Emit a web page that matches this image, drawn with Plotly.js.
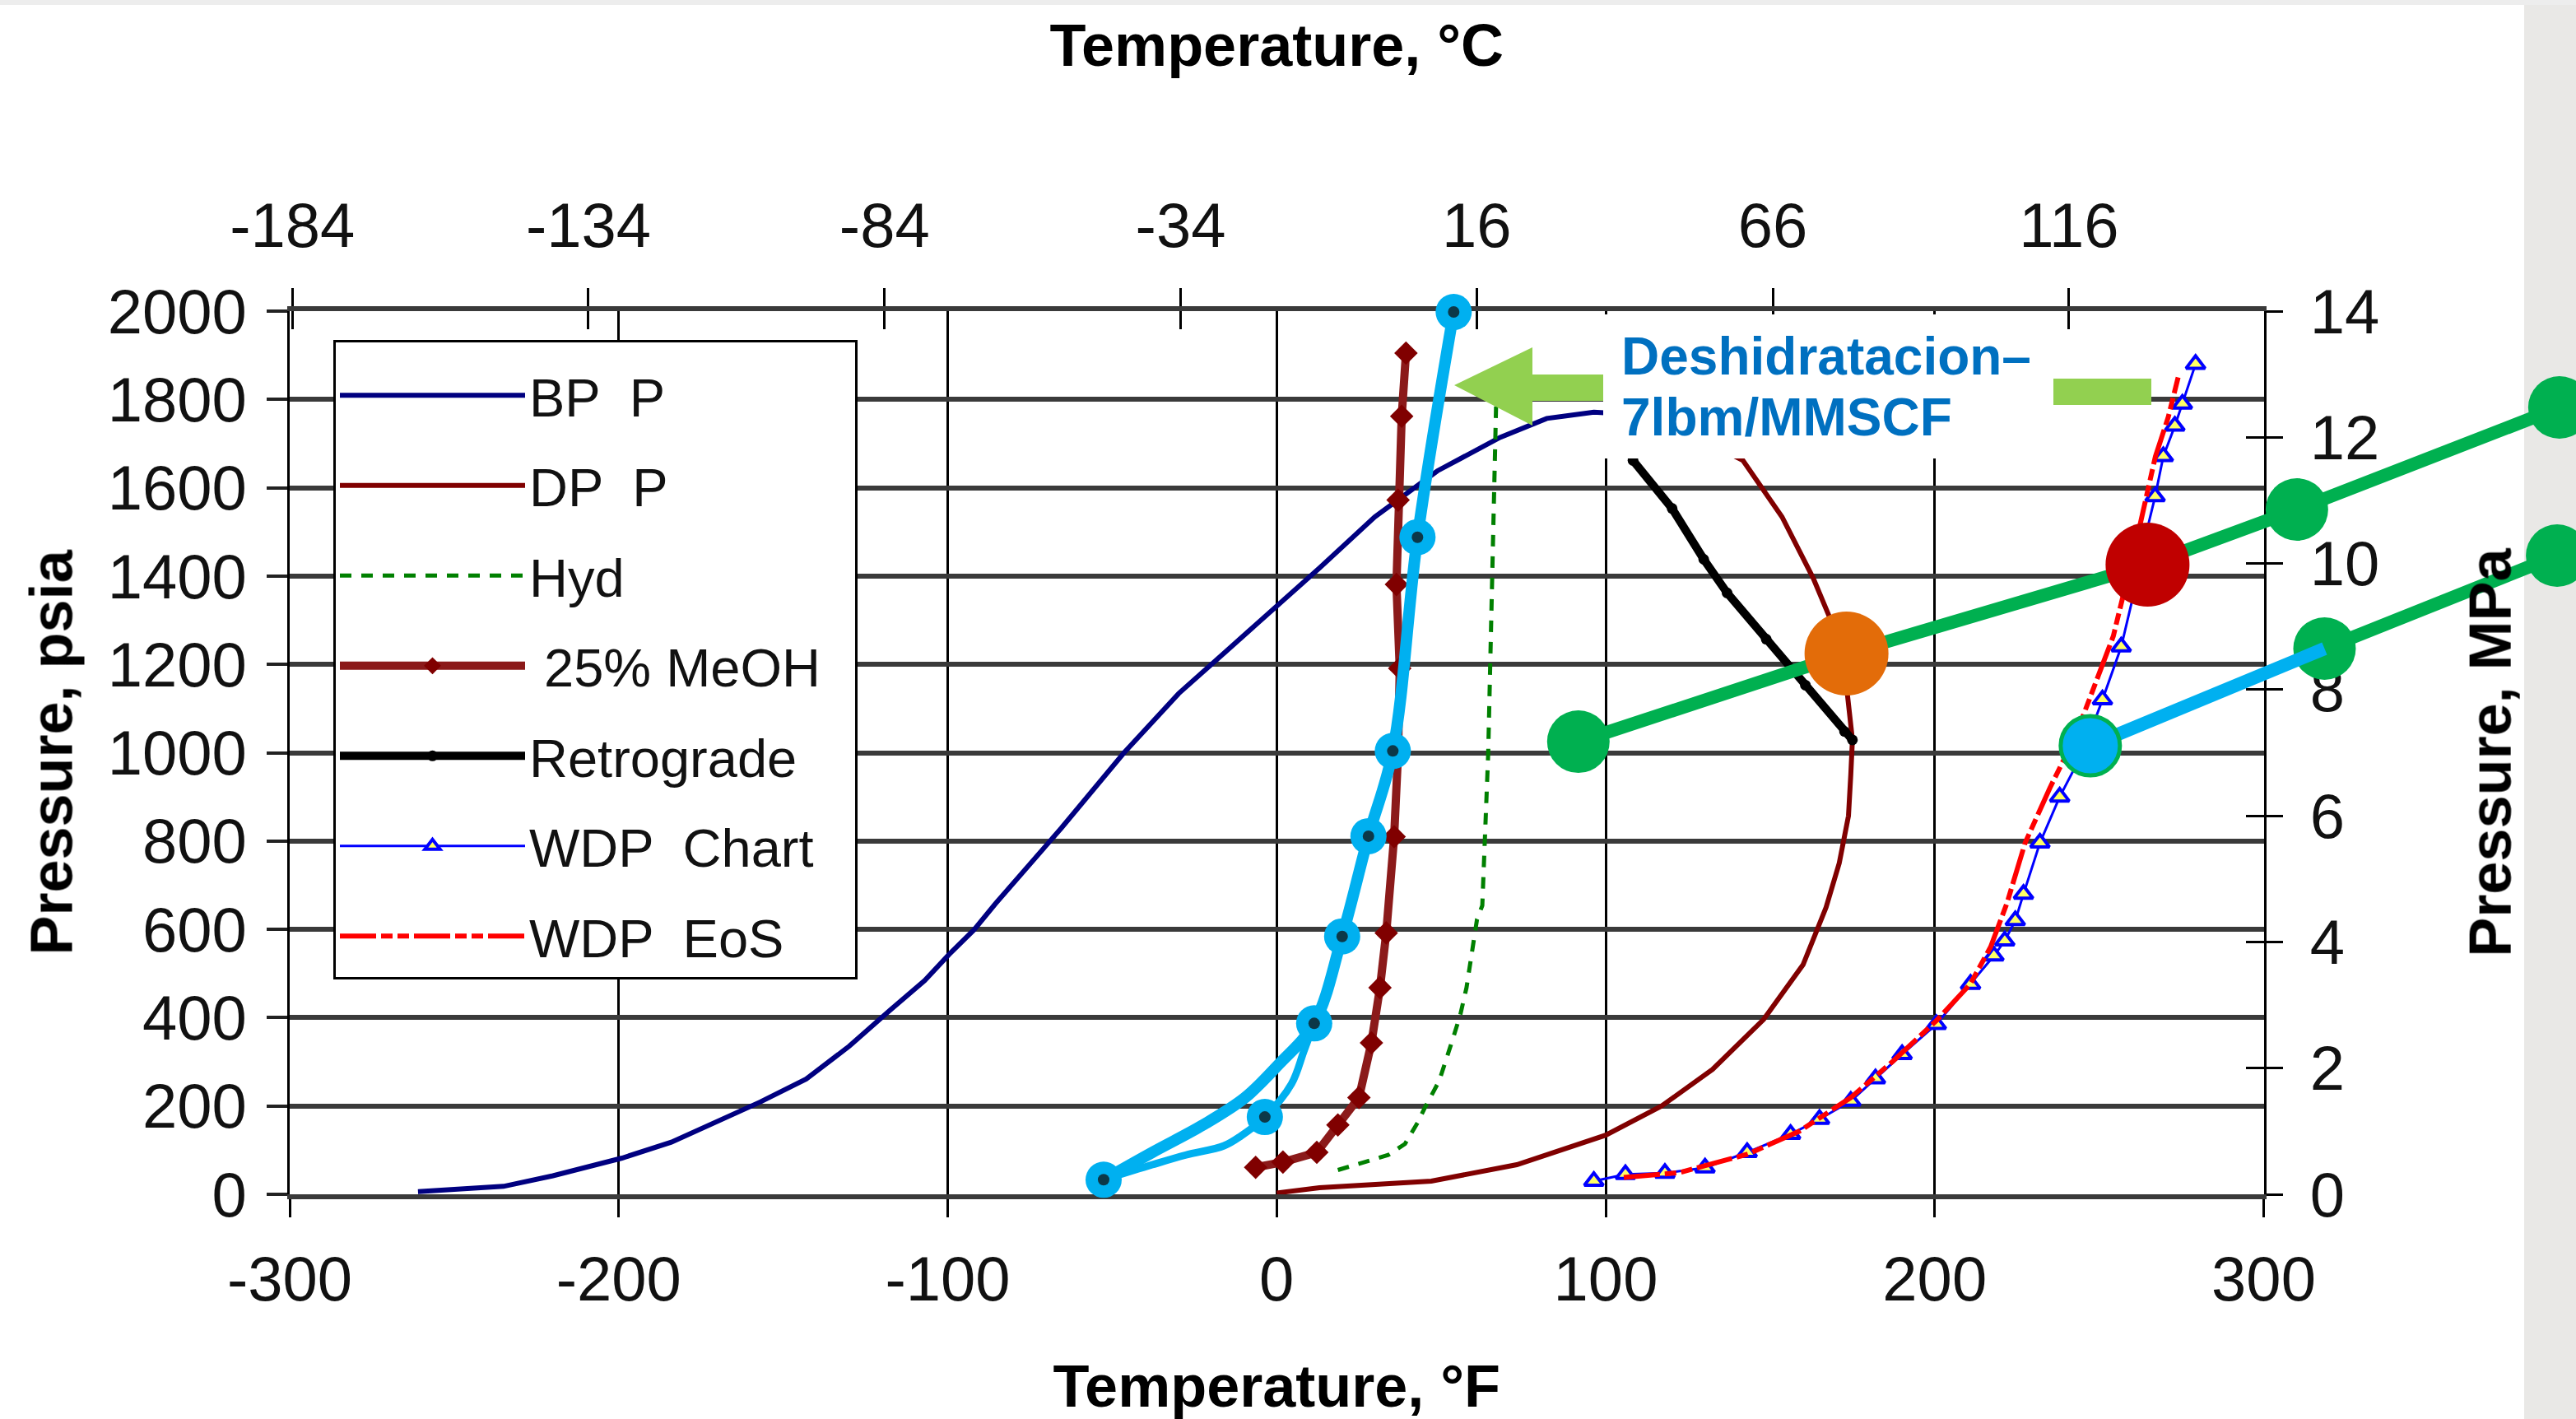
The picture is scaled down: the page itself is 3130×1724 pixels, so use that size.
<!DOCTYPE html>
<html><head><meta charset="utf-8">
<script src="https://cdn.plot.ly/plotly-3.0.1.min.js"></script>
<style>html,body{margin:0;padding:0;background:#fff;overflow:hidden}#chart{width:3130px;height:1724px}</style>
</head><body><div id="chart"></div>
<script>
// ===== data (temperature °F, pressure psia) =====
const bpT = [-261,-245,-235,-220,-209,-199,-184,-168.5,-157,-143,-130,-117.5,-107,-99.6,-92,-85.5,-65.5,-46.4,-29.8,-15.5,-1.2,13.1,29.8,48.8,67.9,82.1,96.4,104];
const bpP = [6,12,18,42,62,82,118,172,209,261,335,417,484,543,599,658,829,1000,1134,1229,1324,1419,1534,1638,1714,1757,1771,1768];

const dpT = [104,125,141.7,153.6,163.1,169,172.6,175,174.5,173.8,171,167,160,148,132.5,117,100,73,47,13,0];
const dpP = [1768,1725,1662,1534,1395,1290,1191,1029,950,857,750,650,520,396,283,200,134,67,30,15,3];

const hydT = [18.6,33.9,39,42.9,44.9,49.4,53.2,55.8,57.7,59.6,60.9,62.5,64.3,65.5,66.7];
const hydP = [55,89,114,163,194,257,344,406,468,561,623,654,1000,1395,1790];

const meohT = [-6.4,1.9,12.2,18.6,25,28.8,31.4,33.3,35.7,36.9,37.4,36.4,36.9,38,39.3];
const meohP = [61,73,95,157,219,343,468,592,810,1000,1191,1381,1572,1762,1905];

const retroT = [104,108.3,120.2,129.8,136.9,148.8,160.7,172.6,175];
const retroP = [1740,1662,1553,1438,1362,1257,1153,1048,1029];

const wdpChartT = [96.4,106,118,130.2,143,156.2,165,174.5,182,190.1,200.5,210.9,218,221.3,224.5,227,232,238,245,251,256.7,260.5,263.7,267,269.5,273,275.3,279.3];
const wdpChartP = [30,45,48,60,95,136,170,211,262,317,385,476,540,574,620,680,796,900,1000,1120,1240,1360,1479,1580,1671,1740,1790,1880];

const wdpEosT = [105.5,122.4,143.2,158.9,174.5,187.4,200.5,210.8,217,222,227.5,235,242.7,254.3,261.3,267.1,271,274];
const wdpEosP = [38,49,91,143,219,302,393,476,560,660,796,920,1036,1264,1479,1671,1760,1850];

// hand-drawn overlay (same units)
const cyanT = [-52.6,-37.8,-22.4,-9.6,0.6,11.4,19.9,27.9,35.3,42.8,53.8];
const cyanP = [33,95,157,219,294,387,584,811,1004,1488,1998];
const cyanLoopT = [-52.6,-37.8,-27.6,-16,-10.9,-3.6,4.5,8.3,11.4];
const cyanLoopP = [33,67,89,110,132,175,250,325,387];
const cyanDotT = [-52.6,-3.6,11.4,19.9,27.9,35.3,42.8,53.8];
const cyanDotP = [33,175,387,584,811,1004,1488,1998];

const lineAT = [91.7,173.2,264.7,310.1,389.9];
const lineAP = [1025,1224.6,1425.9,1550.8,1781.9];
const lineBCyanT = [247.3,318.5];
const lineBCyanP = [1015.8,1235.8];
const lineBGreenT = [318.5,389.2];
const lineBGreenP = [1235.8,1446.4];

// axis ticks
const fTicks = [-300,-200,-100,0,100,200,300];
const pTicks = [0,200,400,600,800,1000,1200,1400,1600,1800,2000];
const cTicks = [-184,-134,-84,-34,16,66,116];
const mpaTicks = [0,2,4,6,8,10,12,14];

// ===== layout geometry =====
const W = 3130, H = 1724;
const L = 352, R = 2750.5, T = 378, B = 1451;
const xRange = [-300,300], yRange = [0,2000];
const xDom = [L/W, R/W], yDom = [1-B/H, 1-T/H];
function extend(r,d){const s=(r[1]-r[0])/(d[1]-d[0]);return [r[0]-d[0]*s, r[1]+(1-d[1])*s];}
const x3Range = extend(xRange,xDom), y3Range = extend(yRange,yDom);
const cRange = xRange.map(f => (f-32)*5/9);
const PX = X => X/W, PY = Y => 1 - Y/H;

const fam = 'Arial, Liberation Sans, sans-serif';
const tickFont = {family:fam, size:76, color:'#111'};
const titleFont = {family:fam, size:72, color:'#000', weight:'bold'};

const cyan = '#00B0F0', green = '#00B050';
const skip = {showlegend:false, hoverinfo:'skip'};
const NB = '\u00a0';

const traces = [
  {x:bpT, y:bpP, name:'BP  P', mode:'lines', line:{color:'#000080', width:6}, legendgroup:'g1'},
  {x:dpT, y:dpP, name:'DP  P', mode:'lines', line:{color:'#800000', width:6}, legendgroup:'g2'},
  {x:hydT, y:hydP, name:'Hyd', mode:'lines', line:{color:'#008000', width:5, dash:'14px,12px'}, legendgroup:'g3'},
  {x:meohT, y:meohP, name:NB+'25% MeOH'+NB+NB, mode:'lines+markers', line:{color:'#8B1A1A', width:10},
   marker:{symbol:'diamond', size:22, color:'#800000'}, legendgroup:'g4'},
  {x:retroT, y:retroP, name:'Retrograde', mode:'lines+markers', line:{color:'#000', width:10},
   marker:{symbol:'circle', size:13, color:'#000'}, legendgroup:'g5'},
  {x:wdpChartT, y:wdpChartP, name:'WDP  Chart', mode:'lines+markers', line:{color:'#0000FF', width:3},
   marker:{symbol:'triangle-up', size:20, color:'#FFFF66', line:{color:'#0000FF', width:4}}, legendgroup:'g6'},
  {x:wdpEosT, y:wdpEosP, name:'WDP  EoS', mode:'lines', line:{color:'#FF0000', width:6, dash:'44px,6px,14px,6px,14px,6px'}, legendgroup:'g7'},
  // empty traces so the secondary axes (°C on top, MPa on the right) are drawn
  Object.assign({x:[null], y:[null], xaxis:'x2', yaxis:'y', mode:'markers'}, skip),
  Object.assign({x:[null], y:[null], xaxis:'x4', yaxis:'y', mode:'markers'}, skip),
  Object.assign({x:[null], y:[null], xaxis:'x', yaxis:'y2', mode:'markers'}, skip),
  Object.assign({x:[null], y:[null], xaxis:'x', yaxis:'y4', mode:'markers'}, skip),
  // hand-drawn overlay, drawn on full-page axes with the same scale
  Object.assign({x:cyanLoopT, y:cyanLoopP, xaxis:'x3', yaxis:'y3', mode:'lines', line:{color:cyan, width:9, shape:'spline'}}, skip),
  Object.assign({x:cyanT, y:cyanP, xaxis:'x3', yaxis:'y3', mode:'lines', line:{color:cyan, width:14, shape:'spline'}}, skip),
  Object.assign({x:cyanDotT, y:cyanDotP, xaxis:'x3', yaxis:'y3', mode:'markers', marker:{symbol:'circle', size:44, color:cyan}}, skip),
  Object.assign({x:cyanDotT, y:cyanDotP, xaxis:'x3', yaxis:'y3', mode:'markers', marker:{symbol:'circle', size:14, color:'#111'}, opacity:0.75}, skip),
  Object.assign({x:lineAT, y:lineAP, xaxis:'x3', yaxis:'y3', mode:'lines', line:{color:green, width:16}}, skip),
  Object.assign({x:[lineAT[0],lineAT[3],lineAT[4]], y:[lineAP[0],lineAP[3],lineAP[4]], xaxis:'x3', yaxis:'y3', mode:'markers', marker:{size:76, color:green}}, skip),
  Object.assign({x:[lineAT[1]], y:[lineAP[1]], xaxis:'x3', yaxis:'y3', mode:'markers', marker:{size:102, color:'#E36C09'}}, skip),
  Object.assign({x:[lineAT[2]], y:[lineAP[2]], xaxis:'x3', yaxis:'y3', mode:'markers', marker:{size:102, color:'#C00000'}}, skip),
  Object.assign({x:lineBGreenT, y:lineBGreenP, xaxis:'x3', yaxis:'y3', mode:'lines+markers', line:{color:green, width:16}, marker:{size:76, color:green}}, skip),
  Object.assign({x:lineBCyanT, y:lineBCyanP, xaxis:'x3', yaxis:'y3', mode:'lines', line:{color:cyan, width:16}}, skip),
  Object.assign({x:[lineBCyanT[0]], y:[lineBCyanP[0]], xaxis:'x3', yaxis:'y3', mode:'markers', marker:{size:72, color:cyan, line:{color:green, width:5}}}, skip)
];

function path(pts){return 'M'+pts.map(p=>PX(p[0])+','+PY(p[1])).join(' L')+' Z';}

const layout = {
  width:W, height:H, margin:{l:0,r:0,t:0,b:0},
  paper_bgcolor:'#fff', plot_bgcolor:'rgba(0,0,0,0)',
  showlegend:true,
  legend:{x:PX(405), y:PY(413), xanchor:'left', yanchor:'top', bgcolor:'#fff', bordercolor:'#000', borderwidth:3,
          font:{family:fam, size:65, color:'#111'}, itemwidth:225,
          title:{text:' ', font:{family:fam, size:12}},
          traceorder:'grouped', tracegroupgap:22},
  xaxis:{domain:xDom, range:xRange, anchor:'y', tickmode:'array', tickvals:fTicks, ticktext:fTicks.map(String),
         ticks:'outside', ticklen:22, tickwidth:3, tickcolor:'#000', showline:true, linecolor:'#3a3a3a', linewidth:6,
         showgrid:true, gridcolor:'#000', gridwidth:3, zeroline:false, tickfont:tickFont, ticklabelstandoff:10,
         title:{text:'Temperature, °F', font:titleFont, standoff:66}},
  yaxis:{domain:yDom, range:yRange, anchor:'x', tickmode:'array', tickvals:pTicks, ticktext:pTicks.map(String),
         ticks:'outside', ticklen:25, tickwidth:4, tickcolor:'#222', showline:true, linecolor:'#000', linewidth:3,
         showgrid:true, gridcolor:'#3a3a3a', gridwidth:6, zeroline:false, tickfont:tickFont, ticklabelstandoff:9,
         title:{text:'Pressure, psia', font:titleFont, standoff:20}},
  xaxis2:{overlaying:'x', side:'top', anchor:'y', range:cRange, tickmode:'array', tickvals:cTicks, ticktext:cTicks.map(String),
         ticks:'outside', ticklen:22, tickwidth:3, tickcolor:'#000', showline:true, linecolor:'#3a3a3a', linewidth:6,
         showgrid:false, zeroline:false, tickfont:tickFont, ticklabelstandoff:20,
         title:{text:'Temperature, °C', font:titleFont, standoff:128}},
  xaxis4:{overlaying:'x', side:'top', anchor:'y', range:cRange, tickmode:'array', tickvals:cTicks,
         ticks:'inside', ticklen:22, tickwidth:3, tickcolor:'#000', showticklabels:false, showline:false, showgrid:false, zeroline:false},
  yaxis2:{overlaying:'y', side:'right', anchor:'x', range:[0,14], tickmode:'array', tickvals:mpaTicks, ticktext:mpaTicks.map(String),
         ticks:'outside', ticklen:20, tickwidth:3, tickcolor:'#000', showline:true, linecolor:'#000', linewidth:3,
         showgrid:false, zeroline:false, tickfont:tickFont, ticklabelstandoff:18,
         title:{text:'Pressure, MPa', font:titleFont, standoff:110}},
  yaxis4:{overlaying:'y', side:'right', anchor:'x', range:[0,14], tickmode:'array', tickvals:mpaTicks,
         ticks:'inside', ticklen:22, tickwidth:3, tickcolor:'#000', showticklabels:false, showline:false, showgrid:false, zeroline:false},
  xaxis3:{domain:[0,1], range:x3Range, anchor:'y3', visible:false, fixedrange:true},
  yaxis3:{domain:[0,1], range:y3Range, anchor:'x3', visible:false, fixedrange:true},
  shapes:[
    {type:'rect', xref:'paper', yref:'paper', x0:PX(3067), x1:1, y0:0, y1:1, fillcolor:'#E9E8E6', line:{width:0}, layer:'below'},
    {type:'rect', xref:'paper', yref:'paper', x0:0, x1:1, y0:PY(6), y1:1, fillcolor:'#EDEDED', line:{width:0}, layer:'below'},
    {type:'path', xref:'paper', yref:'paper', layer:'above', fillcolor:'#92D050', line:{width:0},
     path:path([[1767,468],[1862,422],[1862,455],[1960,455],[1960,487],[1862,487],[1862,517]])},
    {type:'rect', xref:'paper', yref:'paper', layer:'above', x0:PX(2495), x1:PX(2614), y0:PY(492), y1:PY(460), fillcolor:'#92D050', line:{width:0}},
    {type:'rect', xref:'paper', yref:'paper', layer:'above', x0:PX(1948), x1:PX(2495), y0:PY(557), y1:PY(382), fillcolor:'#fff', line:{width:0}}
  ],
  annotations:[
    {xref:'paper', yref:'paper', x:PX(1968), y:PY(433), xanchor:'left', yanchor:'middle', showarrow:false,
     text:'Deshidratacion–', font:{family:fam, size:64, color:'#0070C0', weight:'bold'}},
    {xref:'paper', yref:'paper', x:PX(1968), y:PY(507), xanchor:'left', yanchor:'middle', showarrow:false,
     text:'7lbm/MMSCF', font:{family:fam, size:64, color:'#0070C0', weight:'bold'}}
  ]
};

Plotly.newPlot('chart', traces, layout, {displayModeBar:false, staticPlot:true});
</script></body></html>
